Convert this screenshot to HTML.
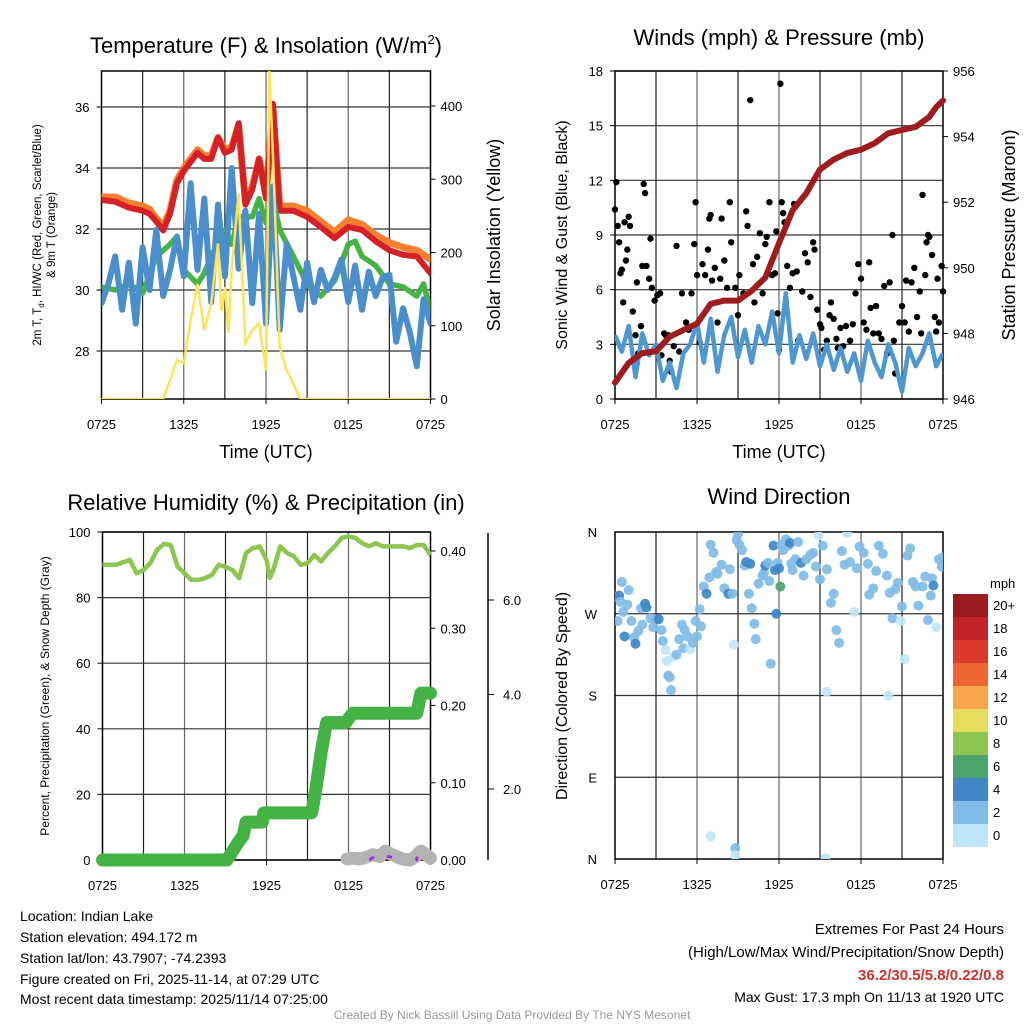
<!DOCTYPE html>
<html><head><meta charset="utf-8"><style>
html,body{margin:0;padding:0;background:#fff;}
svg{display:block;font-family:"Liberation Sans",Arial,sans-serif;}
</style></head><body>
<svg id="root" width="1024" height="1024" viewBox="0 0 1024 1024" xmlns="http://www.w3.org/2000/svg">
<rect width="1024" height="1024" fill="#fff"/>
<text x="266" y="53" font-size="22" text-anchor="middle">Temperature (F) &amp; Insolation (W/m<tspan font-size="13" dy="-9">2</tspan><tspan dy="9">)</tspan></text>
<text x="779" y="45" font-size="22" text-anchor="middle">Winds (mph) &amp; Pressure (mb)</text>
<text x="266" y="510" font-size="22" text-anchor="middle">Relative Humidity (%) &amp; Precipitation (in)</text>
<text x="779" y="504" font-size="22" text-anchor="middle">Wind Direction</text>

<text x="266" y="458" font-size="18" text-anchor="middle">Time (UTC)</text>
<text x="779" y="458" font-size="18" text-anchor="middle">Time (UTC)</text>

<text transform="translate(41,235) rotate(-90)" font-size="11.5" text-anchor="middle">2m T, T<tspan font-size="8" dy="3">d</tspan><tspan dy="-3">, HI/WC (Red, Green, Scarlet/Blue)</tspan></text>
<text transform="translate(55,235) rotate(-90)" font-size="11.5" text-anchor="middle">&amp; 9m T (Orange)</text>
<text transform="translate(500,235) rotate(-90)" font-size="18" text-anchor="middle">Solar Insolation (Yellow)</text>
<text transform="translate(567,235) rotate(-90)" font-size="16" text-anchor="middle">Sonic Wind &amp; Gust (Blue, Black)</text>
<text transform="translate(1015,235) rotate(-90)" font-size="18" text-anchor="middle">Station Pressure (Maroon)</text>
<text transform="translate(49,696) rotate(-90)" font-size="12" text-anchor="middle">Percent, Precipitation (Green), &amp; Snow Depth (Gray)</text>
<text transform="translate(567,696) rotate(-90)" font-size="16" text-anchor="middle">Direction (Colored By Speed)</text>

<g font-size="14">
<text x="20" y="921">Location: Indian Lake</text>
<text x="20" y="942">Station elevation: 494.172 m</text>
<text x="20" y="963">Station lat/lon: 43.7907; -74.2393</text>
<text x="20" y="984">Figure created on Fri, 2025-11-14, at 07:29 UTC</text>
<text x="20" y="1004">Most recent data timestamp: 2025/11/14 07:25:00</text>
</g>
<g text-anchor="end">
<text x="1004" y="934" font-size="15">Extremes For Past 24 Hours</text>
<text x="1004" y="957" font-size="15">(High/Low/Max Wind/Precipitation/Snow Depth)</text>
<text x="1004" y="980" font-size="15" font-weight="bold" fill="#d0312d">36.2/30.5/5.8/0.22/0.8</text>
<text x="1004" y="1002" font-size="14">Max Gust: 17.3 mph On 11/13 at 1920 UTC</text>
</g>
<text x="512" y="1019" font-size="12" fill="#999" text-anchor="middle">Created By Nick Bassill Using Data Provided By The NYS Mesonet</text>
<g id="charts"></g>
</svg>
<script>
// ---------- Temperature panel data ----------
const tHalfHours = [0,0.5,1,1.5,2,2.5,3,3.5,4,4.5,5,5.5,6,6.5,7,7.5,8,8.5,9,9.5,10,10.5,11,11.5,12,12.5,13,13.5,14,14.5,15,15.5,16,16.5,17,17.5,18,18.5,19,19.5,20,20.5,21,21.5,22,22.5,23,23.5,24];
const tempRedHours = [0,1,2,3,3.5,4,4.5,5,5.5,6,7,7.5,8,8.5,9,9.5,10,10.5,11,11.5,12,12.5,13,14,15,16,17,18,19,20,21,22,23,24];
const tempRed = [32.95,32.9,32.7,32.6,32.5,32.25,31.95,32.5,33.5,33.9,34.5,34.3,34.3,35.0,34.5,34.6,35.47,32.8,33.3,34.3,33.0,36.1,32.6,32.6,32.4,32.07,31.7,32.07,31.97,31.6,31.3,31.15,31.1,30.55];
const tempOrange = [33.05,33.05,32.85,32.75,32.65,32.35,32.1,32.6,33.6,34.0,34.6,34.4,34.4,35.0,34.6,34.7,35.4,32.9,33.4,34.3,33.1,36.0,32.75,32.75,32.6,32.25,31.9,32.3,32.15,31.8,31.55,31.4,31.3,31.0];
const tempGreenHours = [0,1,2,3,4,5,5.5,6,7,7.5,8,9,9.5,10,11,11.5,12,12.5,13,14,15,16,17,18,18.5,19,20,21,22,23,23.5,24];
const tempGreen = [30.1,30.0,30.2,29.9,31.1,31.5,31.75,30.66,30.2,30.55,31.1,31.97,31.5,32.4,32.4,33.0,32.2,33.0,31.97,31.1,30.2,29.8,30.3,31.5,31.6,31.1,30.8,30.2,30.1,29.8,30.2,29.3];
const tempBlue = [29.57,30.2,31.1,29.35,30.9,28.9,31.4,30.0,31.97,29.8,30.66,31.75,30.45,33.5,30.66,33.0,29.6,32.8,30.45,34.0,30.7,32.6,29.57,32.5,28.9,33.4,28.7,31.5,30.45,29.35,30.9,29.6,30.66,30.0,30.4,31.0,29.6,30.8,29.35,30.6,29.8,30.4,30.5,28.3,29.4,28.6,27.5,29.7,28.9];
const insolHours = [0,4.5,5,5.5,6,6.5,7,7.5,8,8.5,8.75,9,9.25,9.5,9.75,10,10.5,11,11.5,12,12.25,12.5,13,13.5,14,14.5,24];
const insolation = [0,0,26,53,49,107,157,94,130,212,120,153,90,176,230,280,76,94,103,39,448,335,71,39,21,0,0];
const tempTicks = [28,30,32,34,36];
const insolTicks = [0,100,200,300,400];
const timeTickLabels = ["0725","1325","1925","0125","0725"];

// ---------- Winds panel data ----------
const windSpeed = [3.5,2.6,4.0,1.2,3.6,2.4,3.0,1.0,2.0,0.6,2.5,3.0,4.2,2.0,4.4,1.5,3.5,4.5,2.3,3.8,2.0,4.0,3.0,4.8,2.5,5.8,2.0,3.5,2.2,3.6,1.8,3.0,1.6,2.8,1.5,2.5,1.0,3.2,2.0,1.2,3.0,2.0,0.4,2.8,1.8,2.5,3.6,1.8,2.5];
const pressureHours = [0,1,2,3,4,5,6,7,8,9,10,11,12,13,14,15,16,17,18,19,20,21,22,23,23.5,24];
const pressure = [946.5,947.1,947.4,947.45,947.9,948.1,948.3,948.9,949.0,949.0,949.3,949.7,950.75,951.76,952.27,953.0,953.3,953.5,953.6,953.8,954.1,954.2,954.3,954.6,954.9,955.1];
const gustHours = [0,0.1,0.2,0.3,0.4,0.5,0.6,0.7,0.8,0.9,1.0,1.1,1.3,1.5,1.6,1.7,1.9,2.0,2.1,2.2,2.3,2.5,2.6,2.7,2.9,3.1,3.3,3.4,3.6,3.7,3.9,4.0,4.1,4.3,4.5,4.7,4.9,5.2,5.4,5.6,5.8,5.9,6.0,6.2,6.4,6.6,6.8,6.9,7.0,7.1,7.3,7.5,7.7,7.8,8.0,8.2,8.4,8.5,8.8,9.0,9.1,9.4,9.6,9.7,9.9,10.1,10.2,10.4,10.6,10.8,11.0,11.1,11.3,11.5,11.7,11.8,11.9,12.0,12.1,12.2,12.3,12.4,12.6,12.8,13.0,13.1,13.3,13.4,13.7,13.9,14.1,14.3,14.5,14.6,14.8,15.0,15.1,15.3,15.5,15.7,15.8,16.0,16.2,16.3,16.5,16.7,16.9,17.2,17.4,17.6,17.8,18.0,18.2,18.4,18.6,18.7,18.9,19.1,19.3,19.5,19.7,19.9,20.1,20.3,20.4,20.5,20.8,21.0,21.2,21.3,21.5,21.7,21.9,22.1,22.3,22.4,22.5,22.7,22.8,22.9,23.0,23.2,23.4,23.5,23.6,23.7,23.9,24.0];
const gusts = [10.4,11.9,9.5,8.6,6.9,7.1,5.3,9.7,7.6,8.2,10.0,9.5,4.8,3.5,6.4,2.5,4.0,7.3,11.8,11.3,7.3,6.6,8.8,6.1,5.4,5.7,5.8,2.4,3.6,3.5,3.5,2.1,1.5,2.9,8.4,2.6,5.8,4.2,3.8,5.8,8.5,10.8,6.8,3.1,7.4,6.8,8.2,9.9,10.1,6.5,7.2,4.2,6.6,9.9,7.6,6.1,10.8,8.6,6.1,4.6,6.8,5.8,10.3,9.5,16.4,7.4,5.3,7.8,9.1,5.8,8.5,8.9,10.8,6.8,6.9,9.2,4.7,2.7,17.3,10.8,10.2,9.7,7.3,6.1,6.9,10.7,7.0,3.2,5.9,8.0,7.5,5.6,8.6,8.2,4.9,4.1,3.9,2.7,3.2,4.6,5.3,4.4,3.3,2.8,3.9,2.9,4.0,3.2,4.1,5.8,7.4,6.6,4.2,3.8,7.5,5.0,3.6,5.1,3.6,3.3,6.2,2.5,6.4,9.0,3.2,1.4,4.2,5.1,4.2,6.5,3.7,6.4,7.2,4.5,5.9,3.6,11.2,6.8,8.6,9.0,8.9,7.9,4.5,3.7,6.6,4.2,7.3,5.9];
const windTicks = [0,3,6,9,12,15,18];
const pressureTicks = [946,948,950,952,954,956];

// ---------- Humidity panel data ----------
const rhHours = [0,1,2,2.5,3,3.5,4,4.5,5,5.5,6,6.5,7,7.5,8,8.5,9,9.5,10,10.5,11,11.5,12,12.25,12.5,13,13.5,14,14.5,15,15.5,16,16.5,17,17.5,18,18.5,19,19.5,20,20.5,21,22,22.5,23,23.5,24];
const relHumidity = [90,90,91.5,87.4,88.4,90.5,94.6,96.4,96,89.4,87.4,85.4,85.4,85.9,86.9,90,89.4,88.4,85.9,93.6,95.1,95.6,91.5,86,88.4,95.6,93.6,92.6,90,90.5,93,91,93.6,95.6,98.2,98.7,98.2,96.6,95.6,96.6,95.6,95.6,95.6,95.1,96,96,93];
const precipHours = [0,9.1,9.9,10.3,10.5,11.7,11.8,15.3,15.6,16.0,16.4,17.8,18.3,23.0,23.3,24];
const precip = [0,0,0.022,0.032,0.049,0.049,0.061,0.061,0.09,0.14,0.178,0.178,0.19,0.19,0.216,0.216];
const snowHours = [17.9,18.3,18.8,19.3,19.8,20.3,20.7,21.2,22.0,22.5,22.9,23.3,23.7,24];
const snowDepth = [0.03,0.05,0.03,0.08,0.15,0.1,0.25,0.15,0.02,0.0,0.1,0.25,0.15,0.05];
const rhTicks = [0,20,40,60,80,100];
const precipTicks = [0.00,0.10,0.20,0.30,0.40];
const snowTickLabels = ["2.0","4.0","6.0"];

// ---------- Wind direction panel data ----------
const dirHours = [0,0.2,0.3,0.4,0.5,0.6,0.7,0.9,1.0,1.2,1.4,1.5,1.7,1.9,2.0,2.2,2.3,2.6,2.8,3.0,3.2,3.4,3.5,3.7,3.8,3.9,4.0,4.1,4.3,4.5,4.7,4.9,5.0,5.1,5.3,5.5,5.7,5.9,6.0,6.2,6.3,6.5,6.7,6.9,7.0,7.2,7.4,7.5,7.8,8.0,8.3,8.4,8.6,8.7,8.9,9.0,9.1,9.3,9.5,9.6,9.8,9.9,10.0,10.2,10.3,10.5,10.8,10.9,11.0,11.2,11.3,11.4,11.6,11.7,11.8,11.9,12.0,12.1,12.2,12.3,12.5,12.7,12.8,12.9,13.0,13.2,13.4,13.6,13.8,14.0,14.3,14.5,14.7,14.9,15.0,15.2,15.5,15.8,16.0,16.2,16.4,16.6,16.8,17.0,17.2,17.5,17.7,17.9,18.2,18.5,18.6,18.9,19.1,19.3,19.6,19.9,20.1,20.3,20.5,20.7,20.9,21.0,21.2,21.4,21.6,21.8,22.0,22.2,22.5,22.7,22.9,23.1,23.2,23.3,23.5,23.7,23.9,24.0,15.5,20.0,7.0,8.8,8.8,15.4];
const dirDegrees = [289,262,290,283,305,272,245,280,296,262,244,237,251,276,258,281,277,265,255,263,264,252,240,230,218,202,200,186,223,225,242,258,232,252,245,231,238,262,245,275,256,300,292,310,346,337,316,314,324,298,292,319,292,236,351,358,346,340,323,327,292,325,276,259,242,303,312,315,323,326,306,215,345,318,270,326,320,300,346,340,352,345,348,325,318,330,349,326,312,330,335,337,322,356,308,345,319,282,292,252,238,339,324,359,327,272,320,344,337,325,291,298,317,345,336,312,293,265,297,304,262,278,220,334,342,305,300,279,300,311,263,290,309,301,255,330,322,332,184,180,25,12,4,1];
const dirSpeeds = [3,2,4,3,2,3,5,3,2,3,3,4,3,3,3,5,4,2,3,3,5,3,3,1,1,3,3,3,1,3,3,3,3,2,3,1,3,3,3,3,3,3,5,3,2,3,3,3,3,3,5,3,3,1,3,3,3,3,3,5,3,5,3,3,3,2,3,3,5,3,3,3,5,5,5,2,5,7,3,3,3,3,5,3,2,3,3,5,3,3,3,3,3,1,3,2,3,3,3,3,3,3,3,1,2,1,3,3,3,3,3,3,3,3,3,3,3,3,3,2,1,3,1,3,3,3,3,3,3,3,3,3,3,5,1,3,3,3,1,1,1,3,1,1];
const dirTickLabels = ["N","E","S","W","N"];
const colorbarLabels = ["20+","18","16","14","12","10","8","6","4","2","0"];
const colorbarColors = ["#9b1c20","#c0232a","#db3a2d","#ee6533","#f7a64b","#e6dd5c","#8dc552","#4aa46c","#3f88c5","#80bce7","#bfe6f8"];

// ---------- drawing ----------
const NS = "http://www.w3.org/2000/svg";
const root = document.getElementById("charts");
function mk(tag, attrs, parent) {
  const e = document.createElementNS(NS, tag);
  for (const k in attrs) e.setAttribute(k, attrs[k]);
  (parent || root).appendChild(e);
  return e;
}
function linScale(d0, d1, r0, r1) { return v => r0 + (v - d0) * (r1 - r0) / (d1 - d0); }
function pathD(xs, ys, sx, sy) {
  return xs.map((h, i) => (i ? "L" : "M") + sx(h).toFixed(1) + "," + sy(ys[i]).toFixed(1)).join(" ");
}

function drawFrame(g, x0, y0, x1, y1, hLines, sx) {
  for (let h = 3; h < 24; h += 3) {
    const gl = mk("line", {x1: sx(h), x2: sx(h), y1: y0, y2: y1, stroke: h % 6 === 0 ? "#666" : "#222", "stroke-width": 1.2}, g);
    
    
  }
  hLines.forEach(y => {
    const gl = mk("line", {x1: x0, x2: x1, y1: y, y2: y, stroke: "#333", "stroke-width": 1.2}, g);
    
    
  });
  const fr = mk("rect", {x: x0, y: y0, width: x1 - x0, height: y1 - y0, fill: "none", stroke: "#000", "stroke-width": 1.5}, g);
  
  
  timeTickLabels.forEach((lab, i) => {
    const x = sx(i * 6);
    const tk = mk("line", {x1: x, x2: x, y1: y1, y2: y1 + 5, stroke: "#000"}, g);
    
    
    const t = mk("text", {x: x, y: y1 + 30, "font-size": 13, "text-anchor": "middle"}, g);
    t.textContent = lab;
    
    
  });
}
function yTicks(g, vals, sy, x, side, fmt) {
  vals.forEach(v => {
    const y = sy(v);
    const tk = mk("line", {x1: x, x2: x + (side < 0 ? -5 : 5), y1: y, y2: y, stroke: "#000"}, g);
    
    
    const t = mk("text", {x: x + (side < 0 ? -12 : 10), y: y + 5, "font-size": 13, "text-anchor": side < 0 ? "end" : "start"}, g);
    t.textContent = fmt ? fmt(v) : v;
    
    
  });
}

// Panel 1
(function () {
  const g = mk("g", {});
  
  
  const x0 = 101.5, x1 = 430.5, y0 = 71, y1 = 399;
  const sx = linScale(0, 24, x0, x1);
  const sy = linScale(28, 36, 351, 107);
  const si = linScale(0, 400, 399, 106);
  drawFrame(g, x0, y0, x1, y1, tempTicks.map(sy), sx);
  yTicks(g, tempTicks, sy, x0, -1);
  yTicks(g, insolTicks, si, x1, 1);
  const clip = mk("clipPath", {id: "c1"}, g);
  mk("rect", {x: x0, y: y0, width: x1 - x0, height: y1 - y0}, clip);
  const series = [
    [tempRedHours, tempOrange, "#f47f2e", 7, "temp-9m-line"],
    [tempRedHours, tempRed, "#d42027", 6, "temp-2m-line"],
    [tempGreenHours, tempGreen, "#46b444", 5.5, "heat-index-line"],
    [tHalfHours, tempBlue, "#4a8fcb", 6, "dewpoint-line"]
  ];
  series.forEach(s => {
    const p = mk("path", {d: pathD(s[0], s[1], sx, sy), fill: "none", stroke: s[2], "stroke-width": s[3], "stroke-linejoin": "round", "stroke-linecap": "round", "clip-path": "url(#c1)"}, g);
    
    
  });
  const ins = mk("path", {d: pathD(insolHours, insolation, sx, si), fill: "none", stroke: "#fde25a", "stroke-width": 2.5, "clip-path": "url(#c1)"}, g);
  
  
})();

// Panel 2
(function () {
  const g = mk("g", {});
  
  
  const x0 = 615, x1 = 943, y0 = 71, y1 = 399;
  const sx = linScale(0, 24, x0, x1);
  const sy = linScale(0, 18, 399, 71);
  const sp = linScale(946, 956, 399, 71);
  drawFrame(g, x0, y0, x1, y1, windTicks.map(sy), sx);
  yTicks(g, windTicks, sy, x0, -1);
  yTicks(g, pressureTicks, sp, x1, 1);
  const clip = mk("clipPath", {id: "c2"}, g);
  mk("rect", {x: x0, y: y0, width: x1 - x0, height: y1 - y0}, clip);
  gustHours.forEach((h, i) => {
    const c = mk("circle", {cx: sx(h), cy: sy(gusts[i]), r: 3.2, fill: "#000"}, g);
    
    
  });
  const w = mk("path", {d: pathD(tHalfHours, windSpeed, sx, sy), fill: "none", stroke: "#4f97d1", "stroke-width": 4.5, "stroke-linejoin": "round", "clip-path": "url(#c2)"}, g);
  
  
  const p = mk("path", {d: pathD(pressureHours, pressure, sx, sp), fill: "none", stroke: "#9e1b1f", "stroke-width": 6, "stroke-linecap": "round", "stroke-linejoin": "round"}, g);
  
  
})();

// Panel 3
(function () {
  const g = mk("g", {});
  
  
  const x0 = 102.5, x1 = 430.5, y0 = 532, y1 = 860;
  const sx = linScale(0, 24, x0, x1);
  const sy = linScale(0, 100, 860, 532);
  const sp = linScale(0, 0.4, 860, 551);
  const ss = linScale(0, 2, 860, 789);
  drawFrame(g, x0, y0, x1, y1, rhTicks.map(sy), sx);
  yTicks(g, rhTicks, sy, x0, -1);
  yTicks(g, precipTicks, sp, x1, 1, v => v.toFixed(2));
  const ax = mk("line", {x1: 488, x2: 488, y1: 533, y2: 860, stroke: "#000", "stroke-width": 1.5}, g);
  
  
  snowTickLabels.forEach((lab, i) => {
    const y = ss(parseFloat(lab)) - (i) * 23.5;
    const tk = mk("line", {x1: 488, x2: 494, y1: y, y2: y, stroke: "#000"}, g);
    
    
    const t = mk("text", {x: 503, y: y + 5, "font-size": 13}, g);
    t.textContent = lab;
    
    
  });
  const rh = mk("path", {d: pathD(rhHours, relHumidity, sx, sy), fill: "none", stroke: "#8dc64e", "stroke-width": 4.5, "stroke-linejoin": "round"}, g);
  
  
  const sn = mk("path", {d: pathD(snowHours, snowDepth, sx, ss), fill: "none", stroke: "#b3b3b3", "stroke-width": 13, "stroke-linejoin": "round", "stroke-linecap": "round"}, g);
  
  
  const pr = mk("path", {d: pathD(precipHours, precip, sx, sp), fill: "none", stroke: "#45b245", "stroke-width": 13, "stroke-linejoin": "round", "stroke-linecap": "round"}, g);
  
  
  [[19.6, 0.02, 19.8, 0.07], [20.9, 0.1, 21.1, 0.08], [23.0, 0.0, 23.0, 0.06]].forEach(s => {
    const m = mk("line", {x1: sx(s[0]), y1: ss(s[1]), x2: sx(s[2]), y2: ss(s[3]), stroke: "#a22bea", "stroke-width": 3, "stroke-linecap": "round", "stroke-dasharray": "3 2"}, g);
    
    
  });
})();

// Panel 4
(function () {
  const g = mk("g", {});
  
  
  const x0 = 615, x1 = 943, y0 = 532, y1 = 859;
  const sx = linScale(0, 24, x0, x1);
  const sy = linScale(0, 360, 859, 532);
  drawFrame(g, x0, y0, x1, y1, [90, 180, 270].map(sy), sx);
  dirTickLabels.forEach((lab, i) => {
    const y = sy(i * 90);
    const t = mk("text", {x: 597, y: y + 5, "font-size": 13, "text-anchor": "end"}, g);
    t.textContent = lab;
    
    
  });
  const clip = mk("clipPath", {id: "c4"}, g);
  mk("rect", {x: x0, y: y0, width: x1 - x0, height: y1 - y0}, clip);
  dirHours.forEach((h, i) => {
    const idx = 10 - Math.min(10, Math.floor(dirSpeeds[i] / 2));
    const c = mk("circle", {cx: sx(h), cy: sy(dirDegrees[i]), r: 5, fill: colorbarColors[idx], "fill-opacity": 0.92, "clip-path": "url(#c4)"}, g);
    
    
  });
  const cb = mk("g", {}, g);
  
  
  const ttl = mk("text", {x: 990, y: 588, "font-size": 13, "text-anchor": "start"}, cb);
  ttl.textContent = "mph";
  
  
  colorbarLabels.forEach((lab, i) => {
    const r = mk("rect", {x: 953, y: 594 + i * 23, width: 35, height: 23, fill: colorbarColors[i]}, cb);
    
    
    const t = mk("text", {x: 993, y: 610 + i * 23, "font-size": 13}, cb);
    t.textContent = lab;
    
    
  });
})();
</script>
</body></html>
